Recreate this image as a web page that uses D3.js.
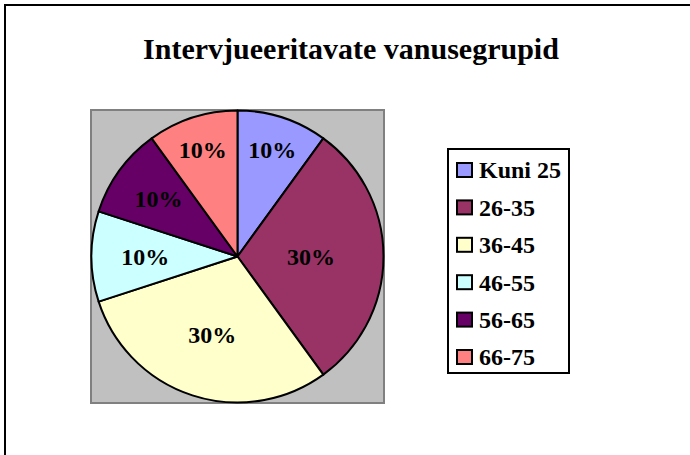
<!DOCTYPE html>
<style>
body { margin: 0; background: #fff; }
svg { display: block; font-family: "Liberation Serif", "Times New Roman", serif; font-weight: bold; }
</style>
<svg width="690" height="455"></svg>
<script src="https://cdn.jsdelivr.net/npm/d3@7"></script>
<script>
const categories = ["Kuni 25", "26-35", "36-45", "46-55", "56-65", "66-75"];
const values = [10, 30, 30, 10, 10, 10];
const labels = ["10%", "30%", "30%", "10%", "10%", "10%"];
const title = "Intervjueeritavate vanusegrupid";

const colors = ["#9999FF", "#993366", "#FFFFCC", "#CCFFFF", "#660066", "#FF8080"];

const svg = d3.select("svg");

// outer chart frame (only left/top show inside the window)
svg.append("rect")
	.attr("x", 5).attr("y", 5)
	.attr("width", 720).attr("height", 480)
	.attr("fill", "none")
	.attr("stroke", "#000")
	.attr("stroke-width", 2);

svg.append("text")
	.attr("x", 351).attr("y", 59)
	.attr("text-anchor", "middle")
	.style("font-size", "30px")
	.text(title);

// plot area
const plot = {x: 91, y: 110, w: 293, h: 293};
svg.append("rect")
	.attr("x", plot.x).attr("y", plot.y)
	.attr("width", plot.w).attr("height", plot.h)
	.attr("fill", "#C0C0C0")
	.attr("stroke", "#808080")
	.attr("stroke-width", 2);

const radius = 146;
const cx = plot.x + plot.w / 2, cy = plot.y + plot.h / 2;
const g = svg.append("g").attr("transform", `translate(${cx},${cy})`);

const pie = d3.pie().sort(null).value((d) => d)(values);
const arc = d3.arc().innerRadius(0).outerRadius(radius);
const total = d3.sum(values);

g.selectAll("path")
	.data(pie)
	.enter()
	.append("path")
	.attr("d", arc)
	.attr("fill", (d, i) => colors[i])
	.attr("stroke", "#000")
	.attr("stroke-width", 2)
	.attr("stroke-linejoin", "round");

// labels: big slices sit nearer the middle, wide text pulls in on the sides
g.selectAll("text")
	.data(pie)
	.enter()
	.append("text")
	.attr("transform", (d) => {
		const a = (d.startAngle + d.endAngle) / 2;
		const f = d.value / total;
		const r = f < 0.2 ? radius * 0.83 - 29 * Math.abs(Math.sin(a))
		                  : radius * 0.585 - 12 * Math.abs(Math.sin(a));
		return `translate(${r * Math.sin(a)},${-r * Math.cos(a)})`;
	})
	.attr("text-anchor", "middle")
	.attr("dy", "0.35em")
	.style("font-size", "24px")
	.text((d, i) => labels[i]);

// legend
const legend = {x: 448, y: 149, w: 121, h: 224};
svg.append("rect")
	.attr("x", legend.x).attr("y", legend.y)
	.attr("width", legend.w).attr("height", legend.h)
	.attr("fill", "#fff")
	.attr("stroke", "#000")
	.attr("stroke-width", 2);

const ly = d3.scalePoint()
	.domain(categories)
	.range([legend.y + 21, legend.y + 208]);

const items = svg.append("g")
	.selectAll("g")
	.data(categories)
	.enter()
	.append("g")
	.attr("transform", (d) => `translate(${legend.x + 9},${ly(d)})`);

items.append("rect")
	.attr("x", 0).attr("y", -7)
	.attr("width", 15).attr("height", 14)
	.attr("fill", (d, i) => colors[i])
	.attr("stroke", "#000")
	.attr("stroke-width", 2);

items.append("text")
	.attr("x", 22)
	.attr("dy", "0.35em")
	.style("font-size", "24px")
	.text((d) => d);
</script>
